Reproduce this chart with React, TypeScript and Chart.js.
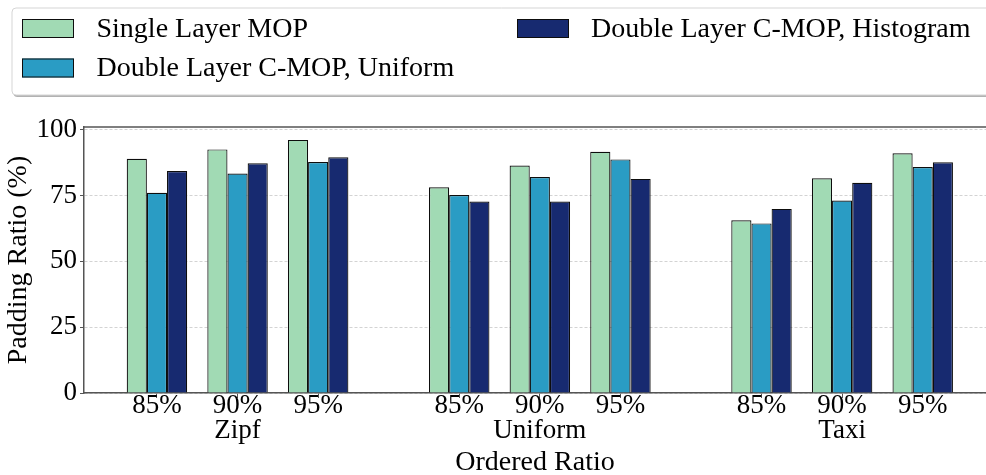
import React, { useEffect, useRef } from 'react';
import { Chart, registerables } from 'chart.js';

Chart.register(...registerables);

// ---- data ----
const DATA_GROUPS = ['Zipf', 'Uniform', 'Taxi'];
const ORDERED_RATIOS = ['85%', '90%', '95%'];
const SERIES_LABELS = [
  'Single Layer MOP',
  'Double Layer C-MOP, Uniform',
  'Double Layer C-MOP, Histogram',
];
// values ordered Zipf(85,90,95), Uniform(85,90,95), Taxi(85,90,95)
const SINGLE_LAYER_MOP = [88.9, 92.5, 96.1, 78.1, 86.4, 91.6, 65.6, 81.5, 91.0];
const C_MOP_UNIFORM = [76.0, 83.3, 87.7, 75.2, 82.0, 88.7, 64.4, 73.1, 85.8];
const C_MOP_HISTOGRAM = [84.3, 87.2, 89.5, 72.7, 72.7, 81.3, 69.9, 79.8, 87.6];
const Y_TICKS = [0, 25, 50, 75, 100];

// ---- style ----
const COLORS = ['#a1dab4', '#2a9cc4', '#172a70'];
const EDGE = '#0d0d0d';
const AXIS = '#555555';
const FONT_FAMILY = "'Liberation Serif', 'Times New Roman', serif";
const GROUP_STRIDE = 3.75;
const X_MIN = -0.905;
const X_MAX = 10.285;
const Y_MAX = 101;

const SERIES = [SINGLE_LAYER_MOP, C_MOP_UNIFORM, C_MOP_HISTOGRAM];

const positions: number[] = [];
const tickLabels: (string | string[])[] = [];
DATA_GROUPS.forEach((g, gi) => {
  ORDERED_RATIOS.forEach((r, ri) => {
    positions.push(gi * GROUP_STRIDE + ri);
    tickLabels.push(ri === 1 ? [r, g] : r);
  });
});

const frameAndLegend = {
  id: 'frameAndLegend',
  afterDraw(chart: any) {
    const ctx: CanvasRenderingContext2D = chart.ctx;
    const a = chart.chartArea;
    ctx.save();
    // top spine
    ctx.strokeStyle = AXIS;
    ctx.lineWidth = 1.5;
    ctx.beginPath();
    ctx.moveTo(a.left, a.top);
    ctx.lineTo(a.right, a.top);
    ctx.stroke();

    // legend box
    const bx = 12, by = 8, bw = 1000, bh = 87, r = 4;
    const rr = (x: number, y: number) => {
      ctx.beginPath();
      ctx.moveTo(x + r, y);
      ctx.lineTo(x + bw - r, y);
      ctx.arcTo(x + bw, y, x + bw, y + r, r);
      ctx.lineTo(x + bw, y + bh - r);
      ctx.arcTo(x + bw, y + bh, x + bw - r, y + bh, r);
      ctx.lineTo(x + r, y + bh);
      ctx.arcTo(x, y + bh, x, y + bh - r, r);
      ctx.lineTo(x, y + r);
      ctx.arcTo(x, y, x + r, y, r);
      ctx.closePath();
    };
    rr(bx + 1.5, by + 2);
    ctx.fillStyle = 'rgba(0,0,0,0.3)';
    ctx.fill();
    rr(bx, by);
    ctx.fillStyle = '#ffffff';
    ctx.fill();
    ctx.strokeStyle = '#d5d5d5';
    ctx.lineWidth = 1;
    ctx.stroke();

    const slots = [
      { sx: 22, sy: 19, tx: 96.5, ty: 36.5 },
      { sx: 22, sy: 58.5, tx: 96.5, ty: 76 },
      { sx: 517, sy: 19, tx: 591, ty: 36.5 },
    ];
    ctx.font = `28px ${FONT_FAMILY}`;
    ctx.textBaseline = 'alphabetic';
    ctx.textAlign = 'left';
    chart.data.datasets.forEach((ds: any, i: number) => {
      const s = slots[i];
      ctx.fillStyle = ds.backgroundColor;
      ctx.fillRect(s.sx, s.sy, 52, 19);
      ctx.strokeStyle = EDGE;
      ctx.lineWidth = 1;
      ctx.strokeRect(s.sx + 0.5, s.sy + 0.5, 51, 18);
      ctx.fillStyle = '#000';
      ctx.fillText(ds.label, s.tx, s.ty);
    });
    ctx.restore();
  },
};

export default function App() {
  const ref = useRef<HTMLCanvasElement>(null);
  useEffect(() => {
    const canvas = ref.current;
    if (!canvas) return;
    const chart = new Chart(canvas, {
      type: 'bar',
      data: {
        datasets: SERIES.map((vals, i) => ({
          label: SERIES_LABELS[i],
          data: vals.map((v, j) => ({ x: positions[j], y: v })),
          backgroundColor: COLORS[i],
          borderColor: EDGE,
          borderWidth: 1.2,
          barPercentage: 1,
          categoryPercentage: 0.75,
        })),
      },
      options: {
        responsive: false,
        animation: false,
        devicePixelRatio: 1,
        layout: { padding: { top: 127, left: 0, right: 0, bottom: 0 } },
        plugins: {
          legend: { display: false },
          tooltip: { enabled: false },
        },
        scales: {
          x: {
            type: 'linear',
            min: X_MIN,
            max: X_MAX,
            offset: false,
            afterBuildTicks: (s: any) => {
              s.ticks = positions.map((v) => ({ value: v }));
            },
            afterFit: (s: any) => {
              s.height = 82;
            },
            ticks: {
              autoSkip: false,
              maxRotation: 0,
              minRotation: 0,
              color: '#000',
              padding: -5,
              font: { family: FONT_FAMILY, size: 27, lineHeight: 25 / 27 },
              callback: (_v: any, i: number) => tickLabels[i],
            },
            grid: {
              display: true,
              offset: false,
              drawOnChartArea: false,
              drawTicks: true,
              tickLength: 5,
              tickColor: AXIS,
              tickWidth: 1,
            },
            border: { display: true, color: AXIS, width: 1.5 },
            title: {
              display: true,
              text: 'Ordered Ratio',
              color: '#000',
              font: { family: FONT_FAMILY, size: 28, lineHeight: 0.9 },
              padding: { top: 0, bottom: 0 },
            },
          },
          y: {
            min: 0,
            max: Y_MAX,
            afterBuildTicks: (s: any) => {
              s.ticks = Y_TICKS.map((v) => ({ value: v }));
            },
            afterFit: (s: any) => {
              s.width = 84;
            },
            ticks: {
              color: '#000',
              padding: 3,
              font: { family: FONT_FAMILY, size: 27 },
            },
            grid: {
              color: '#c8c8c8',
              lineWidth: 0.8,
              tickColor: AXIS,
              tickLength: 4,
              tickWidth: 1,
            },
            border: { display: true, color: AXIS, width: 1.5, dash: [3, 2] },
            title: {
              display: true,
              text: 'Padding Ratio (%)',
              color: '#000',
              font: { family: FONT_FAMILY, size: 28 },
              padding: { top: 2, bottom: 0 },
            },
          },
        },
      },
      plugins: [frameAndLegend],
    } as any);
    return () => chart.destroy();
  }, []);

  return (
    <div style={{ position: 'absolute', left: 0, top: 0, width: 986, height: 475, overflow: 'hidden', background: '#fff' }}>
      <canvas ref={ref} width={986} height={475} style={{ display: 'block' }} />
    </div>
  );
}
